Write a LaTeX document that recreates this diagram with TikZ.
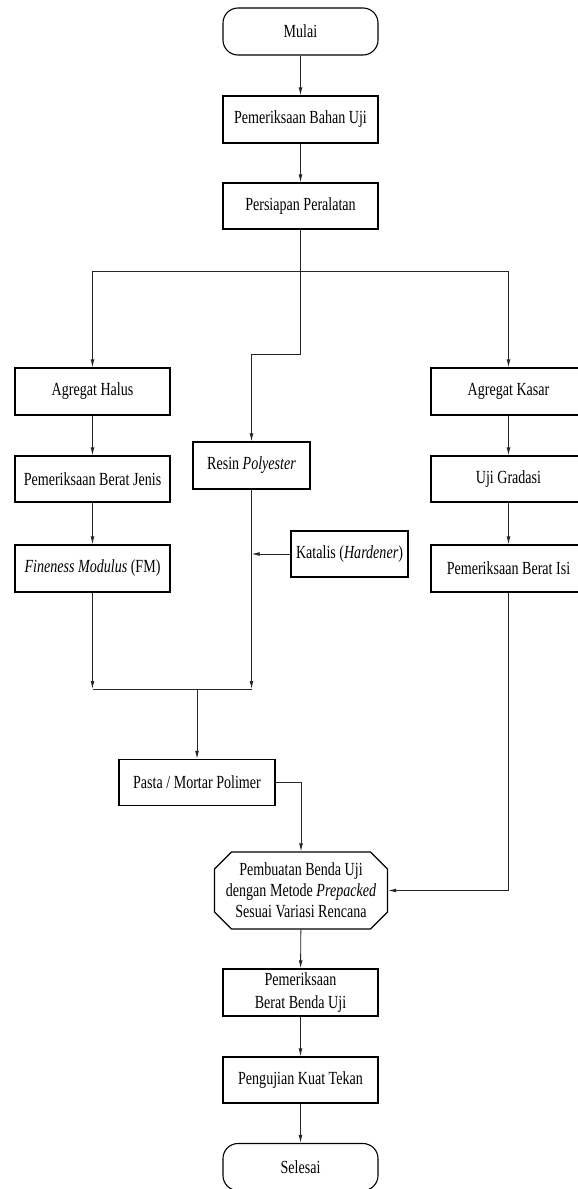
\documentclass[tikz,border=0pt]{standalone}
\usepackage{fontspec}
\setmainfont{Liberation Serif}[FakeStretch=0.76]
\usetikzlibrary{arrows.meta,shapes.misc}
\tikzset{
  box/.style={draw=black,line width=1.1pt,minimum width=155pt,minimum height=47pt,inner sep=0pt,align=center,font=\fontsize{18.5}{23}\selectfont},
  term/.style={box,rounded corners=15pt},
  prep/.style={box,chamfered rectangle,chamfered rectangle xsep=8pt,chamfered rectangle ysep=9pt,minimum width=173pt,minimum height=77pt,font=\fontsize{18.5}{21}\selectfont},
  arr/.style={draw=black!85,line width=0.9pt,-{Latex[length=8pt,width=3.8pt]}},
  ln/.style={draw=black!85,line width=0.9pt},
}
\begin{document}
\begin{tikzpicture}[x=1pt,y=-1pt]
\useasboundingbox[fill=white] (0,0) rectangle (578,1189);
\node[term] (mulai) at (300.5,31.5) {Mulai};
\node[box] (pbu) at (300.5,119.5) {Pemeriksaan Bahan Uji};
\node[box,minimum height=46pt] (persiapan) at (300.5,206) {Persiapan Peralatan};
\node[box] (halus) at (92.5,391.5) {Agregat Halus};
\node[box] (kasar) at (508.5,391.5) {Agregat Kasar};
\node[box,minimum width=117pt] (resin) at (251.5,465.5) {Resin \textit{Polyester}};
\node[box,minimum height=46pt] (pbj) at (92.5,479) {Pemeriksaan Berat Jenis};
\node[box] (fm) at (92.5,568.5) {\textit{Fineness Modulus} (FM)};
\node[box,minimum width=117pt,minimum height=46pt] (katalis) at (349.5,554) {Katalis (\textit{Hardener})};
\node[box,minimum height=46pt] (gradasi) at (508.5,479) {Uji Gradasi};
\node[box] (pbi) at (508.5,568.5) {Pemeriksaan Berat Isi};
\node[box,minimum width=156pt,minimum height=46pt] (pasta) at (197,782.5) {Pasta / Mortar Polimer};
\node[prep] (pembuatan) at (301,890.5) {Pembuatan Benda Uji\\dengan Metode \textit{Prepacked}\\Sesuai Variasi Rencana};
\node[box] (pbbu) at (300.5,992.5) {Pemeriksaan\\Berat Benda Uji};
\node[box,minimum height=46pt] (uji) at (300.5,1080) {Pengujian Kuat Tekan};
\node[term] (selesai) at (300.5,1167) {Selesai};

\coordinate (split) at (300.5,271);
\coordinate (jog) at (300.5,354);
\coordinate (mL) at (92.5,689);
\coordinate (mR) at (251.5,689);
\coordinate (mM) at (197,689);

\draw[arr] (mulai) -- (pbu);
\draw[arr] (pbu) -- (persiapan);
\draw[ln] (persiapan.south) -- (split);
\draw[arr] (split) -| (halus.north);
\draw[arr] (split) -| (kasar.north);
\draw[arr] (split) -- (jog) -| (resin.north);
\draw[arr] (halus) -- (pbj);
\draw[arr] (pbj) -- (fm);
\draw[arr] (kasar) -- (gradasi);
\draw[arr] (gradasi) -- (pbi);
\draw[arr] (katalis.west) -- (katalis.west -| resin.south);
\draw[arr] (fm.south) -- (mL);
\draw[arr] (resin.south) -- (mR);
\draw[ln] (mL) -- (mR);
\draw[arr] (mM) -- (pasta.north);
\draw[arr] (pasta.east) -| (pembuatan.north);
\draw[arr] (pbi.south) |- (pembuatan.east);
\draw[arr] (pembuatan) -- (pbbu);
\draw[arr] (pbbu) -- (uji);
\draw[arr] (uji) -- (selesai);
\end{tikzpicture}
\end{document}
